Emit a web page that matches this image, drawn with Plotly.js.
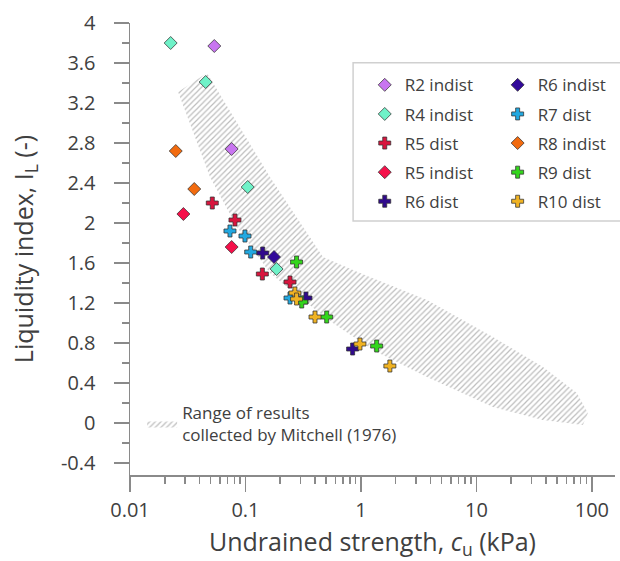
<!DOCTYPE html>
<html>
<head>
<meta charset="utf-8">
<script src="https://cdn.plot.ly/plotly-3.0.1.min.js"></script>
<style>html,body{margin:0;padding:0;background:#fff;}#chart{width:620px;height:561px;}</style>
</head>
<body>
<div id="chart"></div>
<script>
// Mitchell (1976) range boundaries (x: kPa, y: liquidity index)
const bandUpperX = [0.0464, 0.163, 0.469, 0.98, 3.73, 13.9, 37.7, 74.1, 92.3];
const bandUpperY = [3.50, 2.46, 1.66, 1.50, 1.23, 0.86, 0.56, 0.30, 0.10];
const bandLowerX = [0.0261, 0.0493, 0.0843, 0.163, 0.315, 0.572, 1.27, 3.73, 13.9, 37.7, 83.6];
const bandLowerY = [3.31, 2.46, 1.96, 1.50, 1.23, 1.00, 0.73, 0.46, 0.16, 0.03, -0.02];

// Series
const r2IndistX = [0.0537, 0.0759];
const r2IndistY = [3.77, 2.74];
const r4IndistX = [0.0225, 0.0452, 0.1045, 0.186];
const r4IndistY = [3.80, 3.41, 2.36, 1.54];
const r5DistX = [0.0516, 0.0811, 0.14, 0.243];
const r5DistY = [2.20, 2.03, 1.49, 1.41];
const r5IndistX = [0.029, 0.0759];
const r5IndistY = [2.09, 1.76];
const r6DistX = [0.141, 0.334, 0.847];
const r6DistY = [1.70, 1.25, 0.74];
const r6IndistX = [0.1766];
const r6IndistY = [1.66];
const r7DistX = [0.0734, 0.099, 0.111, 0.243];
const r7DistY = [1.92, 1.87, 1.71, 1.25];
const r8IndistX = [0.0249, 0.036];
const r8IndistY = [2.72, 2.34];
const r9DistX = [0.277, 0.307, 0.505, 1.368];
const r9DistY = [1.61, 1.21, 1.06, 0.77];
const r10DistX = [0.268, 0.277, 0.40, 0.98, 1.78];
const r10DistY = [1.30, 1.24, 1.06, 0.79, 0.57];

const xTickVals = [0.01, 0.1, 1, 10, 100];
const xTickText = ['0.01', '0.1', '1', '10', '100'];
const yTickVals = [-0.4, 0, 0.4, 0.8, 1.2, 1.6, 2, 2.4, 2.8, 3.2, 3.6, 4];
const yTickText = ['-0.4', '0', '0.4', '0.8', '1.2', '1.6', '2', '2.4', '2.8', '3.2', '3.6', '4'];

const textColor = '#404040';
const font = 'Open Sans, sans-serif';

function series(name, x, y, symbol, color, legend) {
  return {
    type: 'scatter', mode: 'markers', name: name, x: x, y: y,
    legend: legend, legendgroup: name,
    marker: {symbol: symbol, size: 10, color: color,
             line: {color: 'rgba(50,50,50,0.75)', width: 1}}
  };
}

const band = {
  type: 'scatter', mode: 'lines',
  name: 'Range of results<br>collected by Mitchell (1976)',
  x: bandUpperX.concat(bandLowerX.slice().reverse()),
  y: bandUpperY.concat(bandLowerY.slice().reverse()),
  fill: 'toself',
  fillcolor: 'rgba(0,0,0,0)',
  fillpattern: {shape: '/', size: 4, solidity: 0.3, fgcolor: '#bdbdbd', bgcolor: 'rgba(255,255,255,0)'},
  line: {width: 0, color: 'rgba(0,0,0,0)'},
  legend: 'legend3', hoverinfo: 'skip'
};

const data = [
  band,
  series('R2 indist', r2IndistX, r2IndistY, 'diamond', '#C875F0', 'legend'),
  series('R4 indist', r4IndistX, r4IndistY, 'diamond', '#6FF2C8', 'legend'),
  series('R5 dist', r5DistX, r5DistY, 'cross', '#D8163E', 'legend'),
  series('R5 indist', r5IndistX, r5IndistY, 'diamond', '#F5104A', 'legend'),
  series('R6 dist', r6DistX, r6DistY, 'cross', '#300A8C', 'legend'),
  series('R6 indist', r6IndistX, r6IndistY, 'diamond', '#320A9A', 'legend2'),
  series('R7 dist', r7DistX, r7DistY, 'cross', '#22A8E0', 'legend2'),
  series('R8 indist', r8IndistX, r8IndistY, 'diamond', '#F26B0F', 'legend2'),
  series('R9 dist', r9DistX, r9DistY, 'cross', '#33D61C', 'legend2'),
  series('R10 dist', r10DistX, r10DistY, 'cross', '#F0B323', 'legend2')
];

const legendCommon = {
  bgcolor: 'rgba(0,0,0,0)', borderwidth: 0,
  font: {family: font, size: 17, color: textColor},
  xanchor: 'left', yanchor: 'top', tracegroupgap: 4, itemwidth: 30
};

const layout = {
  width: 620, height: 561,
  margin: {l: 130, r: 5, t: 23, b: 86},
  paper_bgcolor: '#fff', plot_bgcolor: '#fff',
  font: {family: font, color: textColor},
  showlegend: true,
  xaxis: {
    type: 'log', range: [-2, 2.2],
    tickvals: xTickVals, ticktext: xTickText,
    ticks: 'outside', ticklen: 15, tickwidth: 1.5, tickcolor: '#8a8a8a',
    minor: {ticks: 'outside', ticklen: 7, tickwidth: 1.5, tickcolor: '#8a8a8a', dtick: 'D1', showgrid: false},
    showline: true, linecolor: '#8a8a8a', linewidth: 1.5,
    showgrid: false, zeroline: false,
    tickfont: {family: font, size: 20, color: textColor},
    ticklabelstandoff: 1,
    title: {text: 'Undrained strength, <i>c</i><sub>u</sub> (kPa)', font: {family: font, size: 25, color: textColor}, standoff: 14}
  },
  yaxis: {
    range: [-0.52, 4],
    tickvals: yTickVals, ticktext: yTickText,
    ticks: 'outside', ticklen: 15, tickwidth: 1.5, tickcolor: '#8a8a8a',
    minor: {ticks: 'outside', ticklen: 7, tickwidth: 1.5, tickcolor: '#8a8a8a', tick0: 0, dtick: 0.2, showgrid: false},
    showline: true, linecolor: '#8a8a8a', linewidth: 1.5,
    showgrid: false, zeroline: false,
    tickfont: {family: font, size: 20, color: textColor},
    ticklabelstandoff: 14,
    title: {text: 'Liquidity index, I<sub>L</sub> (-)', font: {family: font, size: 25, color: textColor}, standoff: 20}
  },
  legend: Object.assign({}, legendCommon, {x: 0.484, y: 0.902}),
  legend2: Object.assign({}, legendCommon, {x: 0.758, y: 0.902}),
  legend3: Object.assign({}, legendCommon, {x: 0.025, y: 0.177}),
  shapes: [{
    type: 'path', xref: 'paper', yref: 'paper',
    path: 'M 1.2,0.562 L 0.46,0.562 L 0.46,0.912 L 1.2,0.912',
    line: {color: '#d0d0d0', width: 1.5}
  }]
};

Plotly.newPlot('chart', data, layout, {staticPlot: true, displayModeBar: false});
</script>
</body>
</html>
